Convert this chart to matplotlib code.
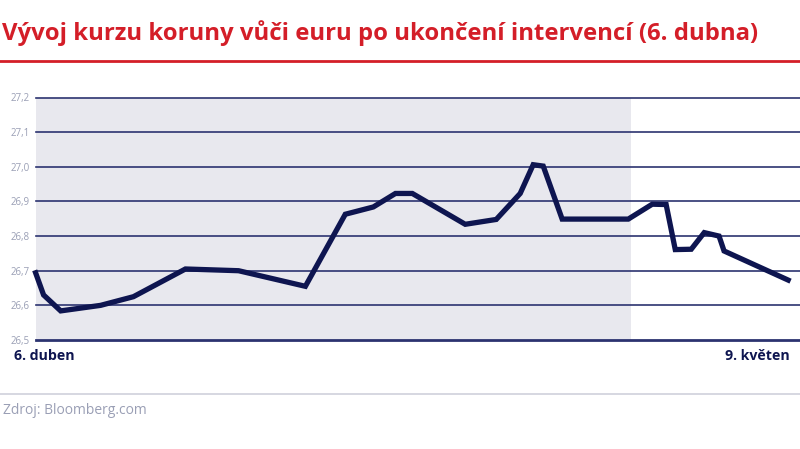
import matplotlib
matplotlib.use("Agg")
import matplotlib.pyplot as plt
from matplotlib.lines import Line2D

# Days since 6 April (fractional positions)
days = [0.0, 0.35, 1.10, 2.85, 4.29, 6.57, 8.90, 11.83, 13.58, 14.81, 15.78, 16.52,
        18.84, 20.20, 21.25, 21.82, 22.26, 23.09, 25.99, 27.04, 27.65, 28.05, 28.75,
        29.32, 29.97, 30.19, 33.0]
czk_eur = [26.694, 26.630, 26.584, 26.600, 26.625, 26.705, 26.700, 26.655, 26.863,
           26.884, 26.923, 26.923, 26.834, 26.848, 26.923, 27.006, 27.002, 26.849,
           26.849, 26.892, 26.891, 26.761, 26.762, 26.810, 26.800, 26.757, 26.673]
yticks = [26.5, 26.6, 26.7, 26.8, 26.9, 27.0, 27.1, 27.2]
ytick_labels = ["26,5", "26,6", "26,7", "26,8", "26,9", "27,0", "27,1", "27,2"]
shade_end = 26.12
x_labels = ["6. duben", "9. květen"]
title = "Vývoj kurzu koruny vůči euru po ukončení intervencí (6. dubna)"
source = "Zdroj: Bloomberg.com"

NAVY = "#0e1550"
GRID = "#2c3370"
RED = "#d41e28"
GREY = "#9a9fb5"

fig = plt.figure(figsize=(8, 4.49), dpi=100)
fig.patch.set_facecolor("white")

ax = fig.add_axes([0.0445, 1 - 340 / 449, 1 - 0.0445, (340 - 97.5) / 449])
ax.set_xlim(0, 33.52)
ax.set_ylim(26.5, 27.2)
ax.axvspan(0, shade_end, color="#e8e8ee", zorder=0, lw=0)
for v in yticks:
    ax.axhline(v, color=GRID, lw=1.2 if v != 26.5 else 2.0, zorder=1, clip_on=False)
ax.plot(days, czk_eur, color=NAVY, lw=3.8, solid_joinstyle="miter", zorder=3,
        clip_on=False)
for s in ax.spines.values():
    s.set_visible(False)
ax.set_xticks([])
ax.set_yticks(yticks)
ax.set_yticklabels(ytick_labels, fontsize=7, color=GREY, family="Open Sans")
ax.tick_params(axis="y", length=0, pad=4)
ax.set_facecolor("none")

fig.text(0.002, 1 - 33 / 449, title, fontsize=17.2, fontweight="bold", color=RED,
         family="Open Sans", va="center", ha="left")
fig.add_artist(Line2D([0, 1], [1 - 61 / 449] * 2, color=RED, lw=2))
fig.text(14 / 800, 1 - 356 / 449, x_labels[0], fontsize=10.2, fontweight="bold",
         color=NAVY, family="Open Sans", va="center", ha="left")
fig.text(790 / 800, 1 - 356 / 449, x_labels[1], fontsize=10.2, fontweight="bold",
         color=NAVY, family="Open Sans", va="center", ha="right")
fig.add_artist(Line2D([0, 1], [1 - 394 / 449] * 2, color="#cfd1dc", lw=1.2))
fig.text(3 / 800, 1 - 411 / 449, source, fontsize=10, color=GREY,
         family="Open Sans", va="center", ha="left")

fig.savefig("out.png", dpi=100)
